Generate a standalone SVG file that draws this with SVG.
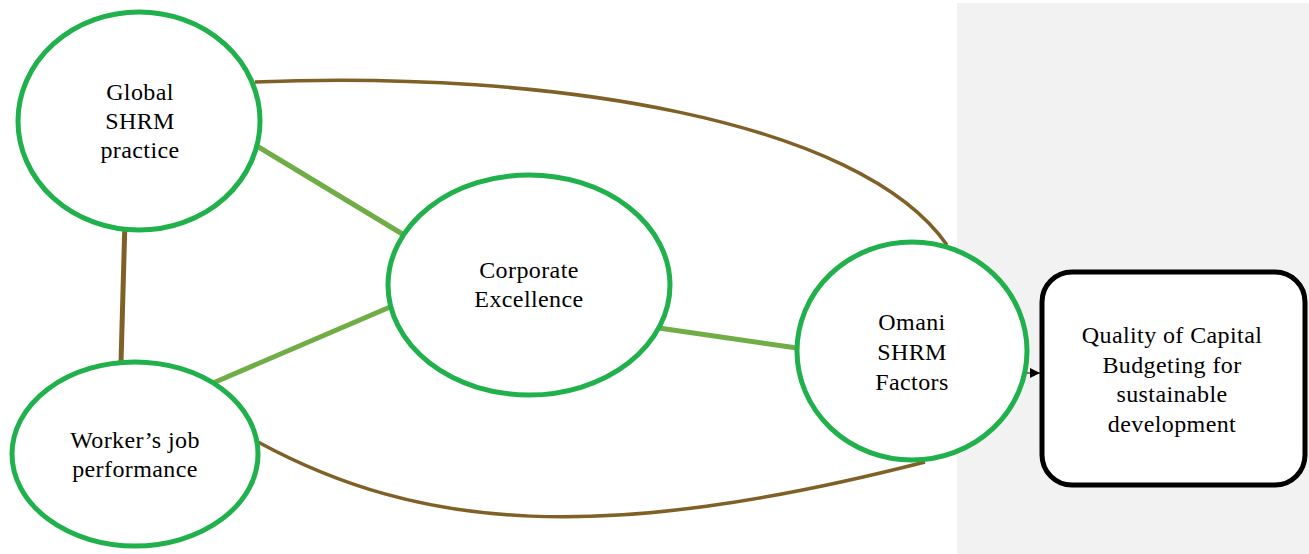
<svg xmlns="http://www.w3.org/2000/svg" width="1309" height="554" viewBox="0 0 1309 554">
<defs>
<style>
.node{fill:#fff;stroke:#21b14c;stroke-width:5}
.box{fill:#fff;stroke:#000;stroke-width:5}
.lg{fill:none;stroke:#70ad47;stroke-width:5}
.br{fill:none;stroke:#7f6026;stroke-width:3.5}
.t{font-family:"Liberation Serif","Times New Roman",serif;font-size:24px;letter-spacing:0.4px;fill:#000;text-anchor:middle}
</style>
<marker id="arr" viewBox="0 0 10 10" refX="10" refY="5" markerWidth="10" markerHeight="10" markerUnits="userSpaceOnUse" orient="auto">
<path d="M0,0 L10,5 L0,10 z" fill="#000"/>
</marker>
</defs>
<rect x="0" y="0" width="1309" height="554" fill="#fff"/>
<rect x="957" y="3" width="352" height="551" fill="#f2f2f2"/>
<g id="connectors">
<path class="br" d="M255,82 C550,70 860,120 947,245"/>
<path class="br" d="M258,442 C420,530 600,545 925,462"/>
<path class="br" d="M125,220 L121,363" style="stroke-width:5"/>
<path class="lg" d="M252,143 L404,235"/>
<path class="lg" d="M213,383 L390,307"/>
<path class="lg" d="M652,327 L797,348"/>
<path d="M1026,373 L1040,373" fill="none" stroke="#000" stroke-width="1" marker-end="url(#arr)"/>
</g>
<g id="global">
<ellipse class="node" cx="139" cy="121" rx="121" ry="109"/>
<text class="t" x="140" y="100">Global</text>
<text class="t" x="140" y="129">SHRM</text>
<text class="t" x="140" y="158">practice</text>
</g>
<g id="corporate">
<ellipse class="node" cx="529" cy="285" rx="141" ry="110"/>
<text class="t" x="529" y="278">Corporate</text>
<text class="t" x="529" y="307">Excellence</text>
</g>
<g id="worker">
<ellipse class="node" cx="135" cy="454" rx="123" ry="92"/>
<text class="t" x="135" y="448">Worker’s job</text>
<text class="t" x="135" y="477">performance</text>
</g>
<g id="omani">
<ellipse class="node" cx="912" cy="351" rx="115" ry="109"/>
<text class="t" x="912" y="330">Omani</text>
<text class="t" x="912" y="360">SHRM</text>
<text class="t" x="912" y="390">Factors</text>
</g>
<g id="quality">
<rect class="box" x="1042" y="272" width="263" height="213" rx="30" ry="30"/>
<text class="t" x="1172" y="343">Quality of Capital</text>
<text class="t" x="1172" y="373">Budgeting for</text>
<text class="t" x="1172" y="402">sustainable</text>
<text class="t" x="1172" y="432">development</text>
</g>
</svg>
